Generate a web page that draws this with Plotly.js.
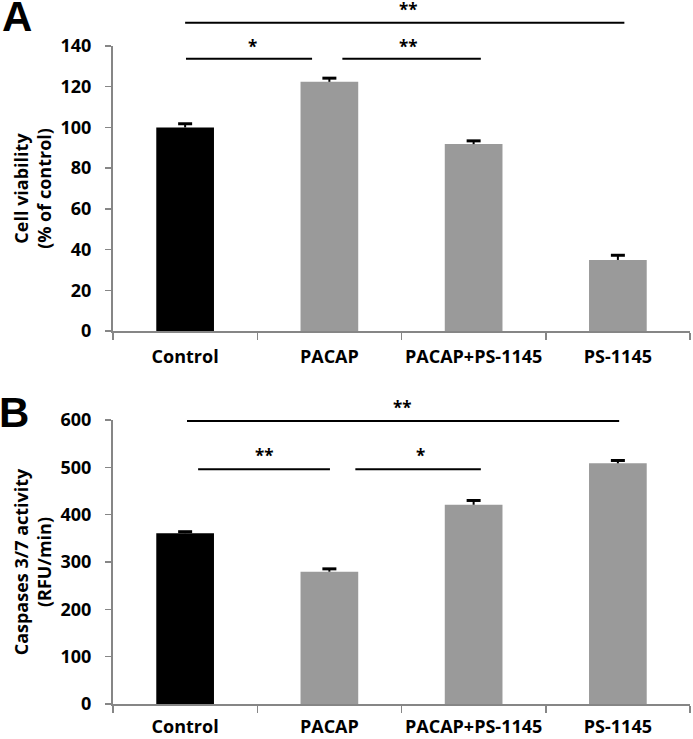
<!DOCTYPE html>
<html>
<head>
<meta charset="utf-8">
<script src="https://cdn.plot.ly/plotly-3.0.1.min.js"></script>
<style>html,body{margin:0;padding:0;background:#fff;}#chart{width:693px;height:739px;}</style>
</head>
<body>
<div id="chart"></div>
<script>
// ---- data ----
const categories = ['Control', 'PACAP', 'PACAP+PS-1145', 'PS-1145'];
const viability = [100, 122.4, 91.8, 34.9];
const viabilityErr = [1.8, 1.8, 1.6, 2.3];
const caspase = [361, 279.5, 421, 508.5];
const caspaseErr = [3, 6, 9, 6];
const barColors = ['#000000', '#9a9a9a', '#9a9a9a', '#9a9a9a'];

// significance brackets: [from category pos, to category pos, line level, star level, label]
const sigA = [
  [0.0, 3.045, 151.4, 160.0, '**'],
  [0.006, 0.88, 133.7, 142.0, '*'],
  [1.09, 2.05, 133.7, 142.0, '**']
];
const starXA = [1.55, 0.467, 1.55];
const sigB = [
  [0.013, 3.009, 598, 635, '**'],
  [0.09, 1.004, 496, 535, '**'],
  [1.18, 2.05, 496, 535, '*']
];
const starXB = [1.507, 0.55, 1.635];
const yMaxA = 140, yMaxB = 600;

// ---- styling ----
const W = 693, H = 739;
const boldFont = {family: 'Open Sans', size: 18, color: '#000', weight: 700};
const axisGray = '#868686';

function barTraces(vals, errs, xa, ya) {
  return [{
    type: 'bar', x: categories, y: vals, xaxis: xa, yaxis: ya,
    marker: {color: barColors, line: {width: 0}},
    error_y: {type: 'data', array: errs, arrayminus: errs.map(() => 0), symmetric: false,
              color: '#000', thickness: 2, width: 0},
    showlegend: false, hoverinfo: 'skip'
  }, {
    // error bar caps (upper end only)
    type: 'scatter', mode: 'markers', x: categories, y: vals.map((v, i) => v + errs[i]),
    xaxis: xa, yaxis: ya, cliponaxis: false,
    marker: {symbol: 'line-ew', size: 10, line: {color: '#000', width: 3}},
    showlegend: false, hoverinfo: 'skip'
  }];
}

function xAxis(anchor, standoff) {
  return {
    domain: [113 / W, 690 / W], anchor: anchor, type: 'category',
    showline: true, linecolor: axisGray, linewidth: 2,
    ticks: 'outside', tickson: 'boundaries', ticklen: 7, tickwidth: 1.5, tickcolor: axisGray,
    tickfont: boldFont, tickangle: 0, ticklabelstandoff: standoff,
    showgrid: false, zeroline: false, fixedrange: true
  };
}
function yAxis(anchor, dom, range, dtick, title) {
  return {
    domain: dom, anchor: anchor, range: range, dtick: dtick,
    showline: true, linecolor: axisGray, linewidth: 2,
    ticks: 'outside', ticklen: 6, tickwidth: 1.5, tickcolor: axisGray,
    tickfont: boldFont, ticklabelstandoff: 10,
    showgrid: false, zeroline: false, fixedrange: true,
    title: {text: title, font: boldFont, standoff: 4}
  };
}

const shapes = [];
const annotations = [];
function addSig(sig, starX, xref, yref, ymax) {
  sig.forEach((s, i) => {
    shapes.push({type: 'line', xref: xref, yref: yref + ' domain',
      x0: s[0], x1: s[1], y0: s[2] / ymax, y1: s[2] / ymax,
      line: {color: '#000', width: 2}});
    annotations.push({xref: xref, yref: yref + ' domain', x: starX[i], y: s[3] / ymax,
      text: s[4], showarrow: false, yshift: 9,
      font: {family: 'Open Sans', size: 17, color: '#000', weight: 700}});
  });
}
addSig(sigA, starXA, 'x', 'y', yMaxA);
addSig(sigB, starXB, 'x2', 'y2', yMaxB);

annotations.push({xref: 'paper', yref: 'paper', x: 17 / W, y: 1 - 17 / H, text: 'A', showarrow: false,
  xanchor: 'center', yanchor: 'middle', font: {family: 'Liberation Sans', size: 42, color: '#000', weight: 700}});
annotations.push({xref: 'paper', yref: 'paper', x: 14 / W, y: 1 - 413 / H, text: 'B', showarrow: false,
  xanchor: 'center', yanchor: 'middle', font: {family: 'Liberation Sans', size: 42, color: '#000', weight: 700}});

const layout = {
  width: W, height: H,
  margin: {l: 0, r: 0, t: 0, b: 0, pad: 0},
  paper_bgcolor: '#fff', plot_bgcolor: '#fff',
  bargap: 0.6,
  xaxis: xAxis('y', 8),
  yaxis: yAxis('x', [1 - 331 / H, 1 - 46 / H], [0, yMaxA], 20, 'Cell viability<br>(% of control)'),
  xaxis2: xAxis('y2', 5),
  yaxis2: yAxis('x2', [1 - 704 / H, 1 - 420 / H], [0, yMaxB], 100, 'Caspases 3/7 activity<br>(RFU/min)'),
  shapes: shapes,
  annotations: annotations
};

Plotly.newPlot('chart',
  barTraces(viability, viabilityErr, 'x', 'y').concat(barTraces(caspase, caspaseErr, 'x2', 'y2')),
  layout, {displayModeBar: false, staticPlot: true});
</script>
</body>
</html>
